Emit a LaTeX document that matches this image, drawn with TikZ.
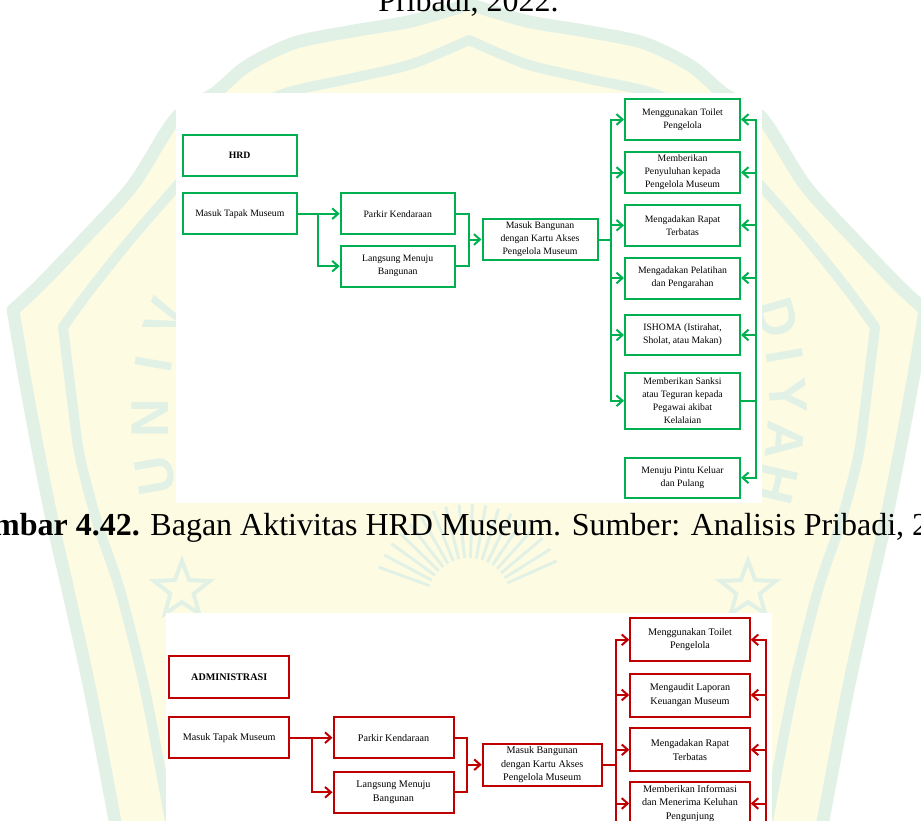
\documentclass[tikz,border=0pt]{standalone}
\usepackage{fontspec}
\setmainfont{Liberation Serif}
\newfontfamily\wmfont{Liberation Sans}
\usetikzlibrary{arrows.meta,shapes.geometric}

\definecolor{hrdgreen}{HTML}{00B050}
\definecolor{admred}{HTML}{C00000}
\definecolor{wmgreen}{HTML}{E2F1E6}
\definecolor{wmyellow}{HTML}{FEFBE3}

\tikzset{
  sz/.style 2 args={minimum width=#1*0.75pt, minimum height=#2*0.75pt},
  flowbox/.style={line width=1.5pt, fill=white, align=center, inner sep=1pt, text=black},
  gbox/.style={flowbox, draw=hrdgreen, font=\fontsize{7.3}{9.75}\selectfont},
  rbox/.style={flowbox, draw=admred, font=\fontsize{7.6}{10.1}\selectfont},
  gline/.style={draw=hrdgreen, line width=1.5pt},
  rline/.style={draw=admred, line width=1.5pt},
  garr/.style={gline, -{Straight Barb[length=4.5pt,width=8pt]}},
  rarr/.style={rline, -{Straight Barb[length=4.5pt,width=8pt]}},
  crestletter/.style={text=wmgreen, inner sep=0pt, font=\wmfont\bfseries\fontsize{40}{40}\selectfont},
  creststar/.style={star, star points=5, star point ratio=2.4, draw=wmgreen, line width=3pt, inner sep=0pt, minimum size=44pt}
}

% left half of the university crest (mirrored for the right half)
\newcommand\cresthalf{%
  \fill[wmyellow]
    plot[smooth] coordinates {(470,4) (412,21) (353,31) (294,43) (247,66) (215,93) (176,118) (133,185) (83,240) (40,285) (13,310)}
    -- plot[smooth] coordinates {(13,310) (25,380) (38,450) (52,520) (68,590) (90,690) (115,821) (120,850)}
    -- (470,850) -- cycle;
  \draw[wmgreen, line width=9.5pt, line cap=round, line join=round]
    plot[smooth] coordinates {(469,4) (412,21) (353,31) (294,43) (247,66) (215,93) (176,118) (133,185) (83,240) (40,285) (13,310)}
    -- plot[smooth] coordinates {(13,310) (25,380) (38,450) (52,520) (68,590) (90,690) (115,821) (120,850)};
  \draw[wmgreen, line width=7.5pt, line cap=round, line join=round]
    plot[smooth] coordinates {(469,40) (412,64) (353,78) (280,95) (230,128) (176,187) (130,240) (90,290) (63,327)}
    -- plot[smooth] coordinates {(63,327) (72,400) (80,457) (98,525) (120,590) (145,690) (170,821) (175,850)};
}

\begin{document}
\begin{tikzpicture}[x=0.75pt,y=-0.75pt]
\useasboundingbox (0,0) rectangle (921,821);
\clip (0,0) rectangle (921,821);
\fill[white] (0,0) rectangle (921,821);

% ---- crest in the page background ----
\cresthalf
\begin{scope}[xshift=703.5pt, xscale=-1]
  \cresthalf
\end{scope}

\node[crestletter, rotate=100] (cl-u) at (155,476) {U};
\node[crestletter, rotate=90]  (cl-n) at (150,418) {N};
\node[crestletter, rotate=80]  (cl-i) at (154,364) {I};
\node[crestletter, rotate=70]  (cl-v) at (165,318) {V};
\node[crestletter, rotate=-74]  (cr-d) at (777,318) {D};
\node[crestletter, rotate=-80]  (cr-i) at (785,356) {I};
\node[crestletter, rotate=-86]  (cr-y) at (788,396) {Y};
\node[crestletter, rotate=-95]  (cr-a) at (785,440) {A};
\node[crestletter, rotate=-103] (cr-h) at (777,484) {H};

\node[creststar] (star-l) at (182,590) {};
\node[creststar] (star-r) at (748,590) {};
\begin{scope}[shift={(469,600)}]
  \foreach \a in {200,208,...,340}
    \draw[wmgreen, line width=2.2pt] (\a:42) -- (\a:96);
\end{scope}

% ---- running text of the page ----
\node[anchor=base west, inner sep=0pt, font=\fontsize{24}{28}\selectfont] (prevcap) at (378,12) {Pribadi, 2022.};
\node[anchor=base west, inner sep=0pt, font=\fontsize{24}{28}\selectfont] (caption) at (-48,535)
  {\textbf{Gambar 4.42.} Bagan Aktivitas HRD Museum. Sumber: Analisis Pribadi, 2022.};

% ================= HRD chart =================
\fill[white] (176,93) rectangle (762,503);

\node[gbox, sz={114}{41}] (g-hrd) at (239.7,155.3) {\textbf{HRD}};
\node[gbox, sz={114}{41}] (g-tapak) at (239.8,213.7) {Masuk Tapak Museum};
\node[gbox, sz={114}{41}] (g-parkir) at (397.7,213.7) {Parkir Kendaraan};
\node[gbox, sz={114}{41}] (g-langsung) at (397.7,266.2) {Langsung Menuju\\Bangunan};
\node[gbox, sz={115}{41}] (g-bang) at (540,239.5) {Masuk Bangunan\\dengan Kartu Akses\\Pengelola Museum};

\node[gbox, sz={115}{41}]   (g-b1) at (682.5,119.5) {Menggunakan Toilet\\Pengelola};
\node[gbox, sz={115}{41.5}] (g-b2) at (682.5,172.5) {Memberikan\\Penyuluhan kepada\\Pengelola Museum};
\node[gbox, sz={115}{41}]   (g-b3) at (682.5,225.3) {Mengadakan Rapat\\Terbatas};
\node[gbox, sz={115}{41}]   (g-b4) at (682.5,278) {Mengadakan Pelatihan\\dan Pengarahan};
\node[gbox, sz={115}{40.5}] (g-b5) at (682.5,335) {ISHOMA (Istirahat,\\Sholat, atau Makan)};
\node[gbox, sz={115}{56.5}] (g-b6) at (682.5,400.8) {Memberikan Sanksi\\atau Teguran kepada\\Pegawai akibat\\Kelalaian};
\node[gbox, sz={115}{40.5}] (g-b7) at (682.5,477.8) {Menuju Pintu Keluar\\dan Pulang};

\coordinate (g-split) at (318.3,213.7);
\coordinate (g-join) at (469,239.5);
\coordinate (g-fan) at (610.7,239.5);
\coordinate (g-back) at (756,400.8);

\draw[gline] (g-tapak.east) -- (g-split);
\draw[garr] (g-split) |- (g-parkir.west);
\draw[garr] (g-split) |- (g-langsung.west);
\draw[gline] (g-parkir.east) -| (g-join) |- (g-langsung.east);
\draw[garr] (g-join) -- (g-bang.west);
\draw[gline] (g-bang.east) -- (g-fan);
\foreach \b in {1,...,6}
  \draw[garr] (g-fan) |- (g-b\b.west);
\draw[gline] (g-b6.east) -- (g-back);
\foreach \b in {1,2,3,4,5,7}
  \draw[garr] (g-back) |- (g-b\b.east);

% ================= ADMINISTRASI chart =================
\fill[white] (166,613) rectangle (772,830);

\node[rbox, sz={120}{42.5}] (r-admin) at (229.2,677.2) {\textbf{ADMINISTRASI}};
\node[rbox, sz={120}{41.5}] (r-tapak) at (229.2,737.7) {Masuk Tapak Museum};
\node[rbox, sz={120}{41.5}] (r-parkir) at (393.5,737.7) {Parkir Kendaraan};
\node[rbox, sz={120}{41.5}] (r-langsung) at (393.5,792.3) {Langsung Menuju\\Bangunan};
\node[rbox, sz={119}{42}] (r-bang) at (542.2,764.7) {Masuk Bangunan\\dengan Kartu Akses\\Pengelola Museum};

\node[rbox, sz={119.5}{43}] (r-b1) at (690,639.8) {Menggunakan Toilet\\Pengelola};
\node[rbox, sz={119.5}{43}] (r-b2) at (690,695) {Mengaudit Laporan\\Keuangan Museum};
\node[rbox, sz={119.5}{43}] (r-b3) at (690,749.8) {Mengadakan Rapat\\Terbatas};
\node[rbox, sz={119.5}{43}] (r-b4) at (690,803.5) {Memberikan Informasi\\dan Menerima Keluhan\\Pengunjung};

\coordinate (r-split) at (311.7,737.7);
\coordinate (r-join) at (467.3,764.7);
\coordinate (r-fan) at (615.7,764.7);
\coordinate (r-fanend) at (615.7,850);
\coordinate (r-back) at (765.7,850);

\draw[rline] (r-tapak.east) -- (r-split);
\draw[rarr] (r-split) |- (r-parkir.west);
\draw[rarr] (r-split) |- (r-langsung.west);
\draw[rline] (r-parkir.east) -| (r-join) |- (r-langsung.east);
\draw[rarr] (r-join) -- (r-bang.west);
\draw[rline] (r-bang.east) -- (r-fan) -- (r-fanend);
\foreach \b in {1,...,4}
  \draw[rarr] (r-fan) |- (r-b\b.west);
\foreach \b in {1,...,4}
  \draw[rarr] (r-back) |- (r-b\b.east);
\end{tikzpicture}
\end{document}
